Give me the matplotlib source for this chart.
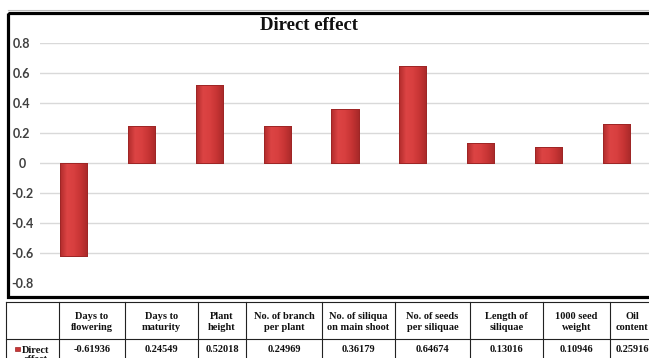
import numpy as np
import matplotlib.pyplot as plt
from matplotlib.colors import LinearSegmentedColormap
from matplotlib.patches import Rectangle

#-------------------------------------------------------------------------------
traits = [
    "Days to\nflowering", "Days to\nmaturity", "Plant\nheight",
    "No. of branch\nper plant", "No. of siliqua\non main shoot",
    "No. of seeds\nper siliquae", "Length of\nsiliquae",
    "1000 seed\nweight", "Oil\ncontent",
]
direct_effect = [-0.61936, 0.24549, 0.52018, 0.24969, 0.36179,
                 0.64674, 0.13016, 0.10946, 0.25916]
y_ticks = [-0.8, -0.6, -0.4, -0.2, 0, 0.2, 0.4, 0.6, 0.8]
series_name = "Direct\neffect"
chart_title = "Direct effect"

#-------------------------------------------------------------------------------
W, H = 649, 358
fig = plt.figure(figsize=(W / 100, H / 100), dpi=100)

SERIF = ['Liberation Serif', 'DejaVu Serif']
SANS = ['Lato', 'DejaVu Sans']

# Chart area (pixel layout converted to figure fractions)
ax = fig.add_axes([40 / W, 1 - 283 / H, (650 - 40) / W, 240 / H])
x = np.arange(len(direct_effect))
bars = ax.bar(x, direct_effect, width=0.4, color='#d03a3a',
              edgecolor='#9e2626', linewidth=0.7, zorder=3)

# Shaded fill on each bar
shade = LinearSegmentedColormap.from_list(
    'bar_shade', ['#b02b2b', '#dc4444', '#d83f3f', '#c63434', '#a82929'])
grad = np.linspace(0, 1, 64).reshape(1, -1)
for rect in bars:
    x0, w = rect.get_x(), rect.get_width()
    y0, h = rect.get_y(), rect.get_height()
    lo, hi = min(y0, y0 + h), max(y0, y0 + h)
    im = ax.imshow(grad, extent=[x0, x0 + w, lo, hi], aspect='auto',
                   cmap=shade, zorder=3.5, interpolation='bilinear')
    im.set_clip_path(rect)
    ax.add_patch(Rectangle((x0, y0), w, h, fill=False,
                           edgecolor='#9e2626', linewidth=0.7, zorder=4))

ax.set_xlim(-0.5, len(direct_effect) - 0.5)
ax.set_ylim(-0.8, 0.8)
ax.set_yticks(y_ticks)
ax.set_yticklabels([f"{t:g}" for t in y_ticks], fontfamily=SANS,
                   fontweight='bold', fontsize=9, color='#404040')
for lbl in ax.get_yticklabels():
    lbl.set_ha('center')
ax.tick_params(axis='y', length=0, pad=13)
ax.set_xticks([])
ax.grid(axis='y', color='#d9d9d9', linewidth=1.0, zorder=0)
ax.yaxis.get_gridlines()[0].set_visible(False)  # no line along the floor
for s in ax.spines.values():
    s.set_visible(False)
ax.set_facecolor('none')

#-------------------------------------------------------------------------------
# Overlay in pixel coordinates: frame, title and data table
ov = fig.add_axes([0, 0, 1, 1], zorder=-1)
ov.set_xlim(0, W)
ov.set_ylim(H, 0)
ov.set_axis_off()

ov.text(16, -2.5, "Fig", fontfamily=SERIF, fontweight='bold', fontsize=8,
        ha='left', va='baseline', color='#222222')

ov.add_patch(Rectangle((8, 12.5), 680, 284.5, fill=False,
                       edgecolor='black', linewidth=2.3))
ov.plot([8, 700], [10, 10], color='#bbbbbb', linewidth=0.8)
ov.text(309, 25, chart_title, fontfamily=SERIF, fontweight='bold',
        fontsize=13.5, ha='center', va='center', color='#111111')

# Table grid
col_edges = [6, 59, 125, 198, 246, 322, 395, 470, 543, 610, 662]
row_top, row_mid, row_bot = 302, 339, 376
for cx in col_edges:
    ov.plot([cx, cx], [row_top, row_bot], color='#222222', linewidth=0.8)
for ry in (row_top, row_mid, row_bot):
    ov.plot([col_edges[0], col_edges[-1]], [ry, ry], color='#222222',
            linewidth=0.8)

for i, (name, val) in enumerate(zip(traits, direct_effect)):
    cx = (col_edges[i + 1] + col_edges[i + 2]) / 2
    if i == len(traits) - 1:
        cx = 632  # last column runs past the edge
    ov.text(cx, 322, name, fontfamily=SERIF, fontweight='bold', fontsize=7.5,
            ha='center', va='center', linespacing=1.35, color='#111111')
    ov.text(cx, 350, f"{val:.5f}", fontfamily=SERIF, fontweight='bold',
            fontsize=7.5, ha='center', va='center', color='#111111')

# Series key with row label
ov.add_patch(Rectangle((15, 346.5), 4.5, 4.5, facecolor='#c83636',
                       edgecolor='#9e2626', linewidth=0.5))
ov.text(36, 355, series_name, fontfamily=SERIF, fontweight='bold',
        fontsize=7.5, ha='center', va='center', linespacing=1.05,
        color='#111111')

fig.savefig('out.png', dpi=100)
